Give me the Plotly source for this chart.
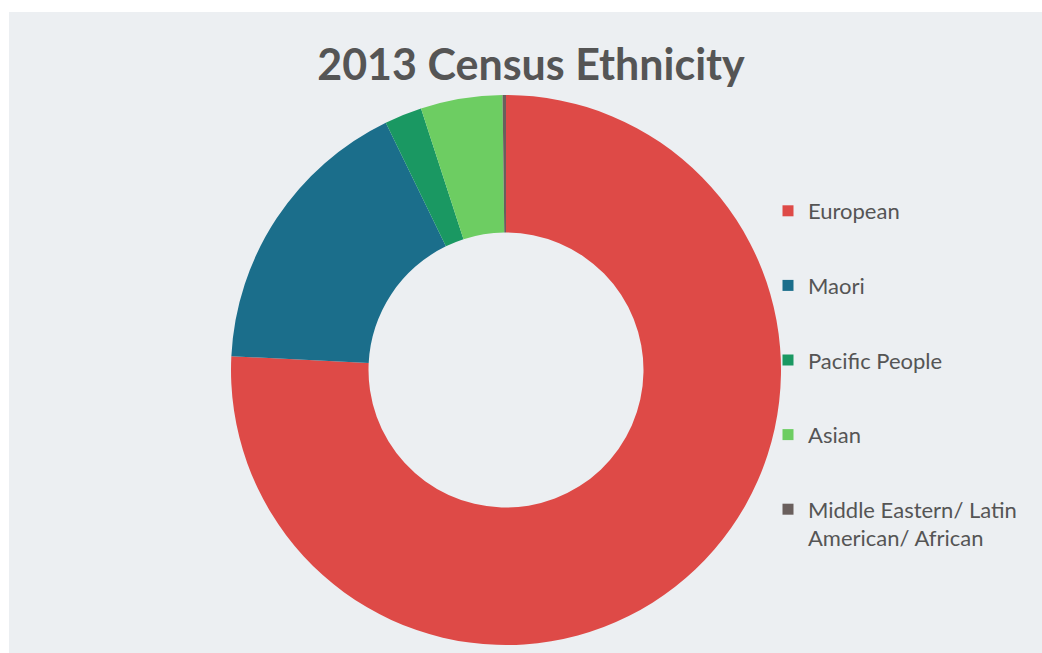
import plotly.graph_objects as go

labels = ["European", "Maori", "Pacific People", "Asian", "Middle Eastern/ Latin American/ African"]
legend_text = ["European", "Maori", "Pacific People", "Asian", "Middle Eastern/ Latin<br>American/ African"]
values = [75.8, 17.0, 2.2, 4.8, 0.2]
colors = ["#de4a47", "#1b6e8b", "#1a9862", "#6dcd62", "#6a5f5d"]

W, H = 1042, 653
fig = go.Figure()
fig.add_trace(go.Pie(
    labels=labels, values=values, hole=0.5, sort=False, direction="clockwise", rotation=0,
    marker=dict(colors=colors, line=dict(width=0)), textinfo="none", showlegend=False,
    domain=dict(x=[231/W, 781/W], y=[1-645/H, 1-95/H]),
))
for i, (lt, c) in enumerate(zip(legend_text, colors)):
    fig.add_trace(go.Scatter(x=[None], y=[None], mode="markers", name=lt, legendgroup=str(i),
                             marker=dict(symbol="square", size=11, color=c)))

fig.update_layout(
    width=W, height=H, margin=dict(l=0, r=0, t=0, b=0),
    paper_bgcolor="white", plot_bgcolor="rgba(0,0,0,0)",
    xaxis=dict(visible=False), yaxis=dict(visible=False),
    title=dict(text="<b>2013 Census Ethnicity</b>", x=531/W, xanchor="center", y=1-65/H, yanchor="middle",
               font=dict(family="Lato", size=43, color="#555555")),
    legend=dict(x=768/W, xanchor="left", y=1-190/H, yanchor="top", traceorder="grouped",
                tracegroupgap=43, valign="top", bgcolor="rgba(0,0,0,0)",
                font=dict(family="Lato", size=22, color="#555555")),
    shapes=[dict(type="rect", xref="paper", yref="paper", x0=9/W, x1=1, y0=0, y1=1-12/H,
                 fillcolor="#eceff2", line=dict(width=0), layer="below")],
)
fig.write_html("out.html", config={"displayModeBar": False},
               post_script="document.body.style.margin='0';document.body.style.overflow='hidden';")
